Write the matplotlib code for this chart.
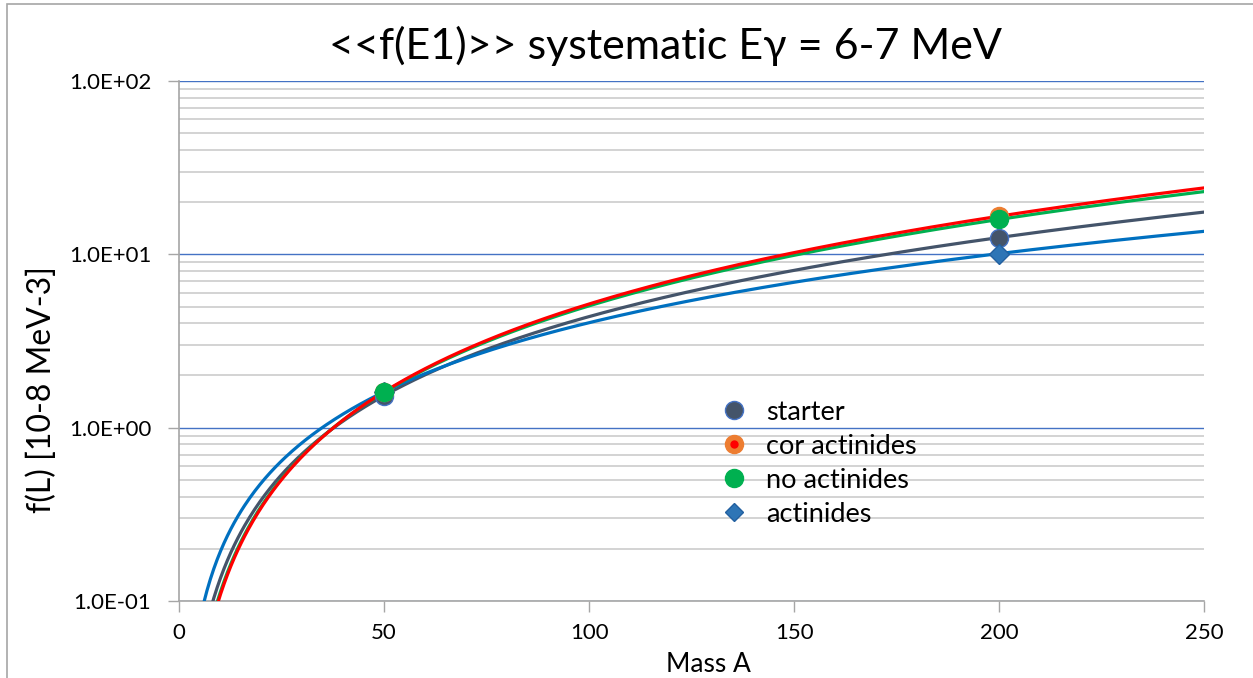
import numpy as np
import matplotlib
matplotlib.use("Agg")
from matplotlib import pyplot as plt
from matplotlib.patches import Rectangle
from matplotlib.lines import Line2D
from matplotlib.ticker import FixedLocator, FuncFormatter

plt.rcParams['font.family'] = ['Lato', 'DejaVu Sans']

# measured strength at the two reference masses
mass = [50, 200]
starter = [1.53, 12.5]
cor_actinides = [1.61, 16.6]
no_actinides = [1.60, 15.9]
actinides = [1.61, 10.1]

title = "<<f(E1)>> systematic E\u03b3 = 6-7 MeV"
x_ticks = [0, 50, 100, 150, 200, 250]
y_ticks = [0.1, 1, 10, 100]


def power_fit(x, y):
    # power-law trendline y = c * x^p, fitted in log-log space
    p, lc = np.polyfit(np.log(x), np.log(y), 1)
    xs = np.linspace(1, 250, 600)
    return xs, np.exp(lc) * xs ** p


fig = plt.figure(figsize=(12.53, 6.78), dpi=100)
ax = fig.add_axes([0.1429, 0.1136, 0.8180, 0.7669])

ax.set_yscale('log')
ax.set_xlim(0, 250)
ax.set_ylim(0.1, 100)

# grid
ax.yaxis.set_minor_locator(FixedLocator([m * 10.0 ** e for e in (-1, 0, 1) for m in range(2, 10)]))
ax.grid(which='minor', axis='y', color='#d0d0d0', lw=1.3, zorder=0)
ax.grid(which='major', axis='y', color='#4472c4', lw=1.0, zorder=0)
ax.set_axisbelow(True)

# trendlines
series = [
    (starter, '#44546a', 'starter'),
    (actinides, '#0070c0', 'actinides'),
    (no_actinides, '#00b050', 'no actinides'),
    (cor_actinides, '#ff0000', 'cor actinides'),
]
for vals, col, _ in series:
    xs, ys = power_fit(mass, vals)
    ax.plot(xs, ys, color=col, lw=2.3, zorder=3)

# data points
ax.plot(mass, starter, 'o', ms=13, mfc='#44546a', mec='#4472c4', mew=1, zorder=5)
ax.plot(mass, actinides, 'D', ms=10, mfc='#2e75b6', mec='#2360a0', mew=1, zorder=5)
ax.plot(mass, cor_actinides, 'o', ms=13, mfc='#ed7d31', mec='#ed7d31', mew=1, zorder=5)
ax.plot(mass, no_actinides, 'o', ms=13, mfc='#00b050', mec='#00b050', mew=1, zorder=6)

ax.set_xticks(x_ticks)
ax.set_yticks(y_ticks)
ax.yaxis.set_major_formatter(FuncFormatter(lambda v, _: f"{v:.1E}"))
ax.tick_params(axis='both', which='major', labelsize=16, length=8, width=1, color='#a6a6a6')
ax.tick_params(axis='y', which='major', pad=12)
ax.tick_params(axis='x', which='major', pad=8)
ax.tick_params(axis='y', which='minor', length=0)
for s in ('top', 'right'):
    ax.spines[s].set_visible(False)
for s in ('left', 'bottom'):
    ax.spines[s].set_color('#a6a6a6')
    ax.spines[s].set_linewidth(1.2)

fig.text(708 / 1253, 1 - 664 / 678, 'Mass A', ha='center', va='center', fontsize=19)
fig.text(42 / 1253, 1 - 390 / 678, 'f(L) [10-8 MeV-3]', ha='center', va='center',
         rotation=90, fontsize=23)
fig.text(0.531, 0.933, title, ha='center', va='center', fontsize=31)

# legend with marker-only entries
h_start = Line2D([], [], ls='none', marker='o', ms=13, mfc='#44546a', mec='#4472c4')
h_cor_o = Line2D([], [], ls='none', marker='o', ms=13, mfc='#ed7d31', mec='#ed7d31')
h_cor_r = Line2D([], [], ls='none', marker='o', ms=5, mfc='#ff0000', mec='#ff0000')
h_no = Line2D([], [], ls='none', marker='o', ms=13, mfc='#00b050', mec='#00b050')
h_act = Line2D([], [], ls='none', marker='D', ms=9, mfc='#2e75b6', mec='#2360a0')
leg = ax.legend([h_start, (h_cor_o, h_cor_r), h_no, h_act],
                ['starter', 'cor actinides', 'no actinides', 'actinides'],
                loc='upper left', bbox_to_anchor=(0.5015, 0.434), frameon=False,
                fontsize=19.5, handlelength=1.2, handletextpad=0.6, labelspacing=0.33)

fig.patches.append(Rectangle((7 / 1253, -0.05), 1.2, 1 - 4 / 678 + 0.05, transform=fig.transFigure,
                             fill=False, ec='#a6a6a6', lw=1.2))

fig.savefig('out.png', dpi=100)
